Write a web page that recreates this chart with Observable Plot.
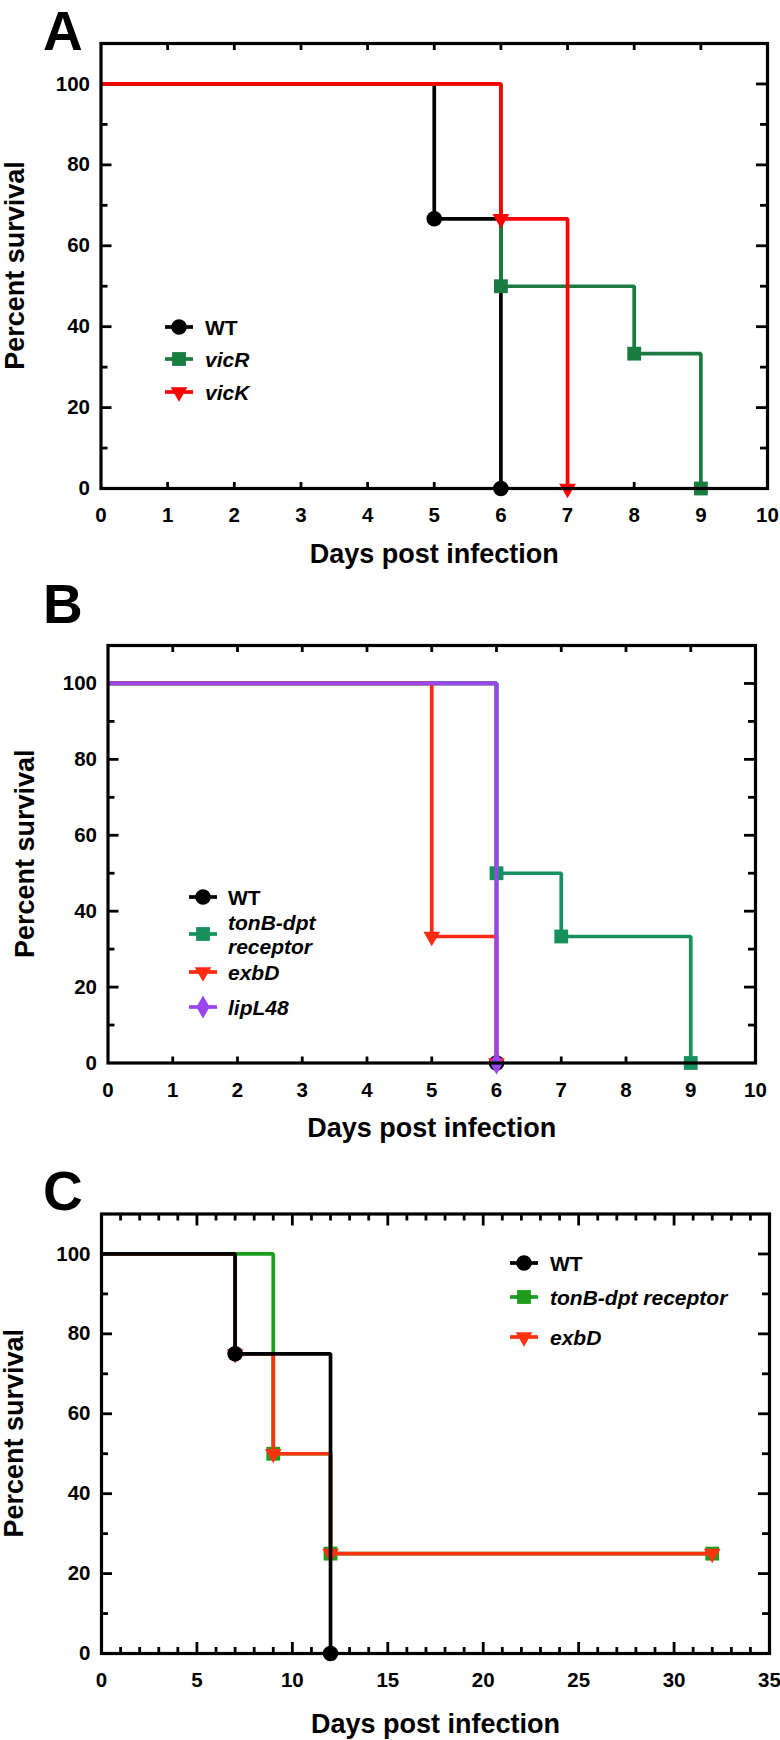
<!DOCTYPE html>
<html>
<head>
<meta charset="utf-8">
<script src="https://cdn.jsdelivr.net/npm/d3@7"></script>
<script src="https://cdn.jsdelivr.net/npm/@observablehq/plot@0.6"></script>
<style>
  body { margin: 0; background: #fff; }
  #wrap { position: relative; width: 780px; height: 1740px; font-family: "Liberation Sans", Arial, sans-serif; }
  .panel { position: absolute; left: 0; width: 780px; }
  #overlay { position: absolute; left: 0; top: 0; pointer-events: none; }
</style>
</head>
<body>
<div id="wrap"></div>
<script>
// ---------------- DATA ----------------
// Panel A
const A_series = ["WT", "vicR", "vicK"];
const A_WT_days = [0, 5, 6];
const A_WT_surv = [100, 66.67, 0];
const A_vicR_days = [0, 6, 8, 9];
const A_vicR_surv = [100, 50, 33.33, 0];
const A_vicK_days = [0, 6, 7];
const A_vicK_surv = [100, 66.67, 0];
const A_xTicks = [0, 1, 2, 3, 4, 5, 6, 7, 8, 9, 10];

// Panel B
const B_series = ["WT", "tonB-dpt receptor", "exbD", "lipL48"];
const B_WT_days = [0, 6];
const B_WT_surv = [100, 0];
const B_tonB_days = [0, 6, 7, 9];
const B_tonB_surv = [100, 50, 33.33, 0];
const B_exbD_days = [0, 5, 6];
const B_exbD_surv = [100, 33.33, 0];
const B_lipL48_days = [0, 6];
const B_lipL48_surv = [100, 0];
const B_xTicks = [0, 1, 2, 3, 4, 5, 6, 7, 8, 9, 10];

// Panel C
const C_series = ["WT", "tonB-dpt receptor", "exbD"];
const C_WT_days = [0, 7, 12];
const C_WT_surv = [100, 75, 0];
const C_tonB_days = [0, 9, 12, 32];
const C_tonB_surv = [100, 50, 25, 25];
const C_exbD_days = [0, 7, 9, 12, 32];
const C_exbD_surv = [100, 75, 50, 25, 25];
const C_xTicks = [0, 5, 10, 15, 20, 25, 30, 35];

const yTicks = [0, 20, 40, 60, 80, 100];
const xTitle = "Days post infection";
const yTitle = "Percent survival";

// ---------------- STYLE ----------------
const FONT = "'Liberation Sans', Arial, Helvetica, sans-serif";
const SYM = {
  circle: {symbol: "circle", r: 7.8, rotate: 0},
  square: {symbol: "square", r: 7.8, rotate: 0},
  tri: {symbol: "triangle", r: 6.2, rotate: 180},
  diamond: {symbol: "diamond", r: 7, rotate: 0}
};
const LINE_W = 3.7;

const pts = (days, surv) => days.map((d, i) => ({d, s: surv[i]}));

const panels = [
  {
    letter: "A", letterY: 50, top: 0, height: 580, mt: 43, mr: 13, mb: 92, ml: 100.5,
    xDomain: [0, 10], xTicks: A_xTicks, xMajorEvery: 1, xMajorLen: 6,
    xTitleDy: 74, yTitleX: 24,
    series: [
      {name: A_series[0], data: pts(A_WT_days, A_WT_surv), color: "#000000", sym: SYM.circle},
      {name: A_series[1], data: pts(A_vicR_days, A_vicR_surv), color: "#1a7d40", sym: SYM.square},
      {name: A_series[2], data: pts(A_vicK_days, A_vicK_surv), color: "#ff0000", sym: SYM.tri}
    ],
    drawOrder: [0, 1, 2],
    legend: {x: 179, textX: 205, rows: [327, 359, 392]}
  },
  {
    letter: "B", letterY: 623, top: 580, height: 580, mt: 65, mr: 25, mb: 97.5, ml: 107.5,
    xDomain: [0, 10], xTicks: B_xTicks, xMajorEvery: 1, xMajorLen: 6,
    xTitleDy: 74, yTitleX: 34,
    series: [
      {name: B_series[0], data: pts(B_WT_days, B_WT_surv), color: "#000000", sym: SYM.circle},
      {name: B_series[1], data: pts(B_tonB_days, B_tonB_surv), color: "#17915c", sym: SYM.square, lines: ["tonB-dpt", "receptor"]},
      {name: B_series[2], data: pts(B_exbD_days, B_exbD_surv), color: "#ff2a10", sym: SYM.tri},
      {name: B_series[3], data: pts(B_lipL48_days, B_lipL48_surv), color: "#9a45f0", sym: SYM.diamond}
    ],
    drawOrder: [0, 1, 2, 3],
    legend: {x: 203, textX: 228, rows: [897, 934, 972, 1007]}
  },
  {
    letter: "C", letterY: 1210, top: 1160, height: 580, mt: 53.5, mr: 11, mb: 87, ml: 101,
    xDomain: [0, 35], xTicks: C_xTicks, xMajorEvery: 5, xMajorLen: 11,
    xTitleDy: 79, yTitleX: 23,
    series: [
      {name: C_series[0], data: pts(C_WT_days, C_WT_surv), color: "#000000", sym: SYM.circle},
      {name: C_series[1], data: pts(C_tonB_days, C_tonB_surv), color: "#1c9e1c", sym: SYM.square},
      {name: C_series[2], data: pts(C_exbD_days, C_exbD_surv), color: "#ff3311", sym: SYM.tri}
    ],
    drawOrder: [1, 2, 0],
    legend: {x: 524, textX: 550, rows: [1263, 1297, 1337]}
  }
];

const wrap = d3.select("#wrap");

function drawPanel(p) {
  const W = 780;
  const innerW = W - p.ml - p.mr;
  const innerH = p.height - p.mt - p.mb;
  const ints = d3.range(p.xDomain[0] + 1, p.xDomain[1]);
  const xMinor = ints.filter(d => d % p.xMajorEvery !== 0);
  const xMajor = ints.filter(d => d % p.xMajorEvery === 0);
  const yAll = d3.range(10, 101, 10);
  const yMajor = yAll.filter(d => d % 20 === 0);
  const yMinor = yAll.filter(d => d % 20 !== 0);
  const tickStyle = {stroke: "#000", strokeWidth: 2.8};

  const marks = [
    // inward ticks
    Plot.ruleX(xMinor, {...tickStyle, insetTop: innerH - 6}),
    Plot.ruleX(xMajor, {...tickStyle, insetTop: innerH - p.xMajorLen}),
    Plot.ruleX(xMinor, {...tickStyle, insetBottom: innerH - 7}),
    Plot.ruleX(xMajor, {...tickStyle, insetBottom: innerH - (p.xMajorLen + 1)}),
    Plot.ruleY(yMinor, {...tickStyle, insetRight: innerW - 7}),
    Plot.ruleY(yMajor, {...tickStyle, insetRight: innerW - 11}),
    Plot.ruleY(yMinor, {...tickStyle, insetLeft: innerW - 7}),
    Plot.ruleY(yMajor, {...tickStyle, insetLeft: innerW - 11}),
    Plot.axisX(p.xTicks, {tickSize: 0, tickPadding: 19, fontSize: 20.5, fontWeight: "bold", label: null}),
    Plot.axisY(yTicks, {tickSize: 0, tickPadding: 11, fontSize: 20.5, fontWeight: "bold", label: null}),
    Plot.text([xTitle], {text: d => d, frameAnchor: "bottom", textAnchor: "middle", lineAnchor: "bottom", dy: p.xTitleDy, fontSize: 27, fontWeight: "bold"})
  ];

  for (const i of p.drawOrder) {
    const s = p.series[i];
    marks.push(Plot.line(s.data, {x: "d", y: "s", curve: "step-after", stroke: s.color, strokeWidth: LINE_W, strokeLinejoin: "miter", strokeLinecap: "butt"}));
    marks.push(Plot.dot(s.data.slice(1), {x: "d", y: "s", symbol: s.sym.symbol, r: s.sym.r, rotate: s.sym.rotate, fill: s.color, stroke: "none"}));
  }
  marks.push(Plot.frame({stroke: "#000", strokeWidth: 3.2}));

  const chart = Plot.plot({
    width: W, height: p.height,
    marginTop: p.mt, marginRight: p.mr, marginBottom: p.mb, marginLeft: p.ml,
    x: {domain: p.xDomain},
    y: {domain: [0, 110]},
    style: {fontFamily: FONT, background: "transparent", overflow: "visible", color: "#000"},
    marks
  });
  wrap.append("div").attr("class", "panel").style("top", p.top + "px").node().appendChild(chart);
}

panels.forEach(drawPanel);

// overlay: panel letters, y titles and legends
const ov = wrap.append("svg").attr("id", "overlay").attr("width", 780).attr("height", 1740)
  .style("font-family", FONT);

panels.forEach(p => {
  ov.append("text").attr("x", 43).attr("y", p.letterY)
    .attr("font-size", 55).attr("font-weight", "bold").text(p.letter);

  const cyFrame = p.top + p.mt + (p.height - p.mt - p.mb) / 2;
  ov.append("text")
    .attr("transform", `translate(${p.yTitleX},${cyFrame}) rotate(-90)`)
    .attr("text-anchor", "middle").attr("font-size", 27).attr("font-weight", "bold")
    .text(yTitle);

  p.series.forEach((s, i) => {
    const cy = p.legend.rows[i];
    const g = ov.append("g");
    g.append("line").attr("x1", p.legend.x - 14).attr("x2", p.legend.x + 14)
      .attr("y1", cy).attr("y2", cy).attr("stroke", s.color).attr("stroke-width", LINE_W);
    const sym = {circle: d3.symbolCircle, square: d3.symbolSquare, triangle: d3.symbolTriangle, diamond: d3.symbolDiamond}[s.sym.symbol];
    g.append("path").attr("d", d3.symbol(sym, s.sym.r * s.sym.r * Math.PI)())
      .attr("transform", `translate(${p.legend.x},${cy}) rotate(${s.sym.rotate})`)
      .attr("fill", s.color);
    const t = g.append("text").attr("x", p.legend.textX).attr("font-size", 21).attr("font-weight", "bold")
      .attr("font-style", s.name === "WT" ? "normal" : "italic");
    if (s.lines) {
      t.attr("y", cy - 12);
      s.lines.forEach((ln, k) => t.append("tspan").attr("x", p.legend.textX).attr("dy", k === 0 ? "0.36em" : "24px").text(ln));
    } else {
      t.attr("y", cy).attr("dy", "0.36em").text(s.name);
    }
  });
});
</script>
</body>
</html>
